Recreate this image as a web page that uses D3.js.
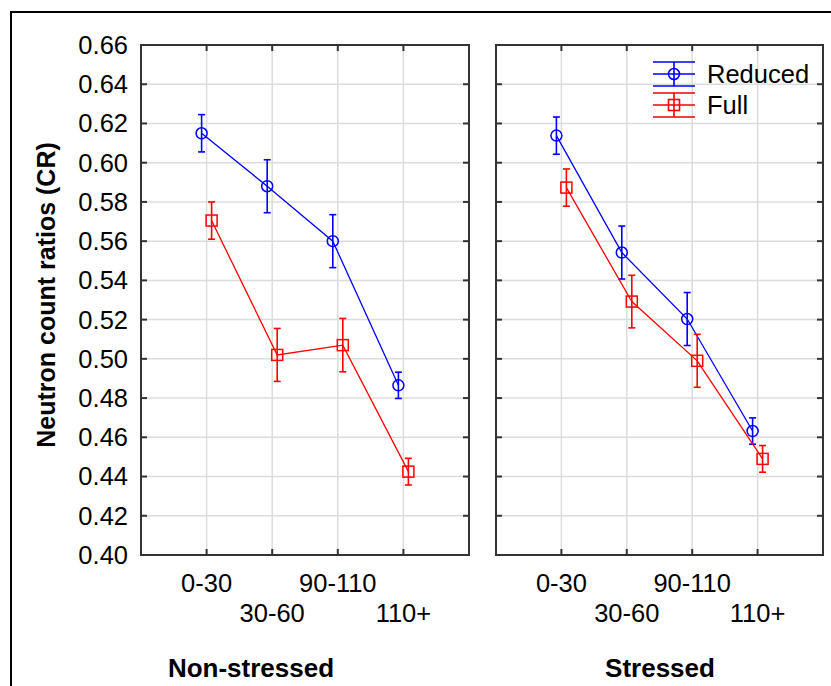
<!DOCTYPE html>
<html>
<head>
<meta charset="utf-8">
<script src="https://cdn.jsdelivr.net/npm/d3@7"></script>
<style>
  body { margin: 0; background: #fff; }
  svg { display: block; font-family: "Liberation Sans", Arial, sans-serif; }
</style>
</head>
<body>
<svg width="831" height="686"></svg>
<script>
// categories and groups
var categories = ["0-30", "30-60", "90-110", "110+"];
var groups = ["Non-stressed", "Stressed"];
var seriesNames = ["Reduced", "Full"];

// means and error half-widths
var reducedNS = [0.615, 0.588, 0.560, 0.4865];
var reducedNSErr = [0.0095, 0.0135, 0.0135, 0.0067];
var fullNS = [0.5705, 0.502, 0.507, 0.4425];
var fullNSErr = [0.0095, 0.0135, 0.0136, 0.0068];
var reducedS = [0.6138, 0.5542, 0.5203, 0.4632];
var reducedSErr = [0.0095, 0.0135, 0.0135, 0.0067];
var fullS = [0.5873, 0.5292, 0.4990, 0.4490];
var fullSErr = [0.0095, 0.0134, 0.0135, 0.0068];

var yTicks = [0.40, 0.42, 0.44, 0.46, 0.48, 0.50, 0.52, 0.54, 0.56, 0.58, 0.60, 0.62, 0.64, 0.66];

var svg = d3.select("svg");

// outer frame (runs off the right/bottom edge like the original)
svg.append("rect")
  .attr("x", 11).attr("y", 12)
  .attr("width", 840).attr("height", 700)
  .attr("fill", "none").attr("stroke", "#000").attr("stroke-width", 2);

var y = d3.scaleLinear().domain([0.40, 0.66]).range([555, 45]);

var panels = [
  { name: groups[0], left: 141, right: 469, labelX: 251,
    series: [
      { name: seriesNames[0], vals: reducedNS, err: reducedNSErr, color: "#0000ff", shape: "circle", off: -5 },
      { name: seriesNames[1], vals: fullNS, err: fullNSErr, color: "#ff0000", shape: "square", off: 5 }
    ] },
  { name: groups[1], left: 496, right: 823, labelX: 660,
    series: [
      { name: seriesNames[0], vals: reducedS, err: reducedSErr, color: "#0000ff", shape: "circle", off: -5 },
      { name: seriesNames[1], vals: fullS, err: fullSErr, color: "#ff0000", shape: "square", off: 5 }
    ] }
];

var axisColor = "#333";
var gridColor = "#dcdcdc";
var tickLen = 6;

panels.forEach(function(p, pi) {
  var x = d3.scalePoint().domain(categories).range([p.left, p.right]).padding(1);
  var g = svg.append("g");

  // grid
  g.selectAll(".hg").data(yTicks.slice(1, -1)).enter().append("line")
    .attr("x1", p.left).attr("x2", p.right)
    .attr("y1", function(d){ return y(d); }).attr("y2", function(d){ return y(d); })
    .attr("stroke", gridColor).attr("stroke-width", 1.5);
  g.selectAll(".vg").data(categories).enter().append("line")
    .attr("x1", function(d){ return x(d); }).attr("x2", function(d){ return x(d); })
    .attr("y1", y(0.66)).attr("y2", y(0.40))
    .attr("stroke", gridColor).attr("stroke-width", 1.5);

  // inward ticks on all four sides
  g.selectAll(".tl").data(yTicks).enter().append("line")
    .attr("x1", p.left).attr("x2", p.left + tickLen)
    .attr("y1", function(d){ return y(d); }).attr("y2", function(d){ return y(d); })
    .attr("stroke", axisColor).attr("stroke-width", 2);
  g.selectAll(".tr").data(yTicks).enter().append("line")
    .attr("x1", p.right).attr("x2", p.right - tickLen)
    .attr("y1", function(d){ return y(d); }).attr("y2", function(d){ return y(d); })
    .attr("stroke", axisColor).attr("stroke-width", 2);
  g.selectAll(".tb").data(categories).enter().append("line")
    .attr("x1", function(d){ return x(d); }).attr("x2", function(d){ return x(d); })
    .attr("y1", y(0.40)).attr("y2", y(0.40) - tickLen)
    .attr("stroke", axisColor).attr("stroke-width", 2);
  g.selectAll(".tt").data(categories).enter().append("line")
    .attr("x1", function(d){ return x(d); }).attr("x2", function(d){ return x(d); })
    .attr("y1", y(0.66)).attr("y2", y(0.66) + tickLen)
    .attr("stroke", axisColor).attr("stroke-width", 2);

  // frame
  g.append("rect")
    .attr("x", p.left).attr("y", y(0.66))
    .attr("width", p.right - p.left).attr("height", y(0.40) - y(0.66))
    .attr("fill", "none").attr("stroke", axisColor).attr("stroke-width", 2);

  // x tick labels (staggered rows)
  g.selectAll(".xl").data(categories).enter().append("text")
    .attr("x", function(d){ return x(d); })
    .attr("y", function(d, i){ return i % 2 === 0 ? 592 : 622; })
    .attr("text-anchor", "middle")
    .attr("font-size", 25.5).attr("fill", "#000")
    .text(function(d){ return d; });

  // group label
  g.append("text")
    .attr("x", p.labelX).attr("y", 677)
    .attr("text-anchor", "middle")
    .attr("font-size", 26).attr("font-weight", "bold")
    .text(p.name);

  // series
  p.series.forEach(function(s) {
    var pts = s.vals.map(function(v, i){ return { cat: categories[i], v: v, e: s.err[i] }; });
    var px = function(d){ return x(d.cat) + s.off; };
    var line = d3.line().x(px).y(function(d){ return y(d.v); });
    var sg = g.append("g").attr("stroke", s.color).attr("fill", "none");
    sg.append("path").attr("d", line(pts)).attr("stroke-width", 1.3);

    // error bars
    sg.selectAll(".eb").data(pts).enter().append("line")
      .attr("x1", px).attr("x2", px)
      .attr("y1", function(d){ return y(d.v + d.e); })
      .attr("y2", function(d){ return y(d.v - d.e); })
      .attr("stroke-width", 1.6);
    [1, -1].forEach(function(sign) {
      sg.selectAll(".cap").data(pts).enter().append("line")
        .attr("x1", function(d){ return px(d) - 3.5; })
        .attr("x2", function(d){ return px(d) + 3.5; })
        .attr("y1", function(d){ return y(d.v + sign * d.e); })
        .attr("y2", function(d){ return y(d.v + sign * d.e); })
        .attr("stroke-width", 1.6);
    });

    // markers
    if (s.shape === "circle") {
      sg.selectAll(".mk").data(pts).enter().append("circle")
        .attr("cx", px).attr("cy", function(d){ return y(d.v); })
        .attr("r", 5.5).attr("stroke-width", 1.5);
    } else {
      sg.selectAll(".mk").data(pts).enter().append("rect")
        .attr("x", function(d){ return px(d) - 5.5; })
        .attr("y", function(d){ return y(d.v) - 5.5; })
        .attr("width", 11).attr("height", 11).attr("stroke-width", 1.5);
    }
  });

  // y axis labels only on left panel
  if (pi === 0) {
    g.selectAll(".yl").data(yTicks).enter().append("text")
      .attr("x", 128).attr("y", function(d){ return y(d); })
      .attr("dy", "0.35em")
      .attr("text-anchor", "end")
      .attr("font-size", 25.5)
      .text(function(d){ return d3.format(".2f")(d); });
  }

  // legend in right panel
  if (pi === 1) {
    var lg = svg.append("g");
    p.series.forEach(function(s, i) {
      var cy = 74 + i * 31, cx = 674;
      var lgi = lg.append("g").attr("stroke", s.color).attr("fill", "none").attr("stroke-width", 1.6);
      [-12, 0, 12].forEach(function(dy) {
        lgi.append("line").attr("x1", 653).attr("x2", 695).attr("y1", cy + dy).attr("y2", cy + dy);
      });
      lgi.append("line").attr("x1", cx).attr("x2", cx).attr("y1", cy - 12).attr("y2", cy + 12);
      if (s.shape === "circle") {
        lgi.append("circle").attr("cx", cx).attr("cy", cy).attr("r", 5.5);
      } else {
        lgi.append("rect").attr("x", cx - 5.5).attr("y", cy - 5.5).attr("width", 11).attr("height", 11);
      }
      lg.append("text").attr("x", 707).attr("y", cy).attr("dy", "0.35em")
        .attr("font-size", 25.5).attr("fill", "#000").text(s.name);
    });
  }
});

// y axis title
svg.append("text")
  .attr("transform", "translate(55,295) rotate(-90)")
  .attr("text-anchor", "middle")
  .attr("font-size", 25).attr("font-weight", "bold")
  .text("Neutron count ratios (CR)");
</script>
</body>
</html>
